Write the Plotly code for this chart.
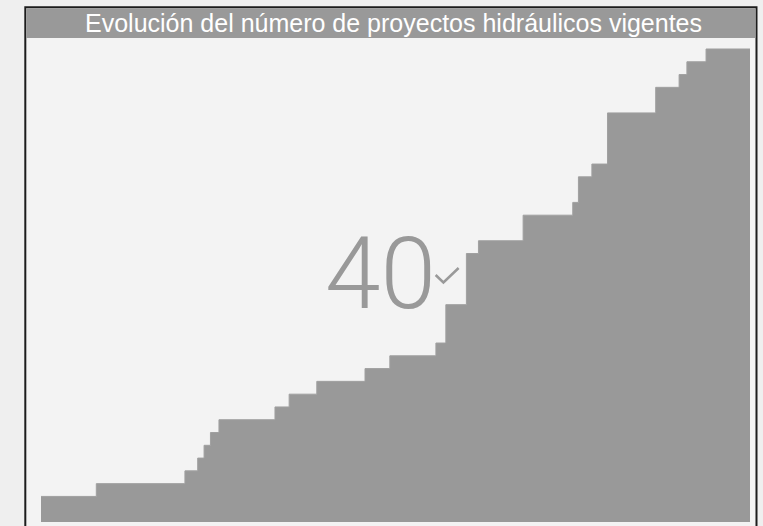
import plotly.graph_objects as go

# step positions (time index, 0-100) and number of active projects
x_vals = [0, 7.8, 20.3, 22.1, 23.0, 23.9, 25.1, 33.0, 35.0, 38.9, 45.7, 49.2, 55.7, 57.1,
          60.0, 61.7, 68.0, 75.0, 75.8, 77.7, 79.9, 86.7, 90.0, 91.1, 93.8, 100]
y_vals = [2, 3, 4, 5, 6, 7, 8, 9, 10, 11, 12, 13, 14, 17,
          21, 22, 24, 25, 27, 28, 32, 34, 35, 36, 37, 37]
title_text = "Evolución del número de proyectos hidráulicos vigentes"
kpi_text = "40"

W, H = 763, 526
fig = go.Figure()
fig.add_trace(go.Scatter(x=x_vals, y=y_vals, mode="lines", line_shape="hv",
                         line=dict(color="#a0a0a0", width=1), fill="tozeroy",
                         fillcolor="#999999", hoverinfo="skip"))

L, R, T, B = 40.7, 13, 37.7, 3.7
pw, ph = W - L - R, H - T - B
def px(x): return (x - L) / pw
def py(y): return (H - B - y) / ph

check_path = "M {:.5f} {:.5f} L {:.5f} {:.5f} L {:.5f} {:.5f}".format(
    px(435.5), py(275), px(443.3), py(282.5), px(458.5), py(268))
shapes = [
    dict(type="rect", xref="paper", yref="paper", x0=px(25), x1=px(756.5), y0=py(540), y1=py(7),
         fillcolor="#f3f3f3", line=dict(color="#1c1c1c", width=2), layer="below"),
    dict(type="rect", xref="paper", yref="paper", x0=px(26), x1=px(755.5), y0=py(37.7), y1=py(8),
         fillcolor="#999999", line=dict(width=0), layer="below"),
    dict(type="path", xref="paper", yref="paper", path=check_path,
         line=dict(color="#999999", width=2.5)),
]
ann = [
    dict(text=title_text, xref="paper", yref="paper", x=px(393), y=py(22.5), showarrow=False,
         font=dict(family="Liberation Sans, Arial", size=25, color="#ffffff"),
         xanchor="center", yanchor="middle"),
    dict(text=kpi_text, xref="paper", yref="paper", x=px(380), y=py(273), showarrow=False,
         font=dict(family="Roboto", size=100, color="#999999", weight=300),
         xanchor="center", yanchor="middle"),
]

fig.update_layout(width=W, height=H, margin=dict(l=L, r=R, t=T, b=B),
                  paper_bgcolor="#efefef", plot_bgcolor="rgba(0,0,0,0)",
                  showlegend=False, shapes=shapes, annotations=ann,
                  xaxis=dict(range=[0, 100], visible=False, fixedrange=True),
                  yaxis=dict(range=[0, (H - B - T) / 12.8], visible=False, fixedrange=True))
fig.write_html("out.html", config={"displayModeBar": False},
               post_script="document.body.style.margin='0';document.body.style.overflow='hidden';")
